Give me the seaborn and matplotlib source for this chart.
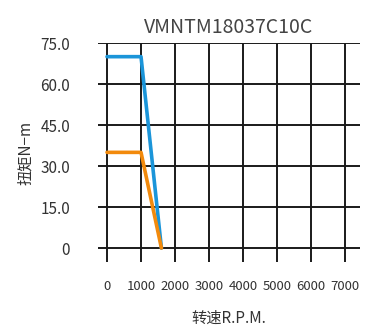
import matplotlib
matplotlib.use("Agg")
import matplotlib.pyplot as plt
import seaborn as sns
import pandas as pd

speed = [0, 1000, 1600]
peak_torque = [70, 70, 0]
rated_torque = [35, 35, 0]
x_ticks = [0, 1000, 2000, 3000, 4000, 5000, 6000, 7000]
y_ticks = [0, 15, 30, 45, 60, 75]
y_labels = ['0', '15.0', '30.0', '45.0', '60.0', '75.0']

sns.set_style('white')
plt.rcParams['font.family'] = ['Noto Sans CJK SC', 'DejaVu Sans']

df = pd.DataFrame({
    'speed': speed * 2,
    'torque': peak_torque + rated_torque,
    'curve': ['peak'] * 3 + ['rated'] * 3,
})

fig = plt.figure(figsize=(3.65, 3.27), dpi=100)
ax = fig.add_axes([0.2685, 0.1988, 0.7178, 0.6697])

sns.lineplot(data=df, x='speed', y='torque', hue='curve', sort=False,
             palette={'peak': '#1b95d9', 'rated': '#f28a0c'},
             linewidth=2.6, legend=False, ax=ax, zorder=3)

ax.set_xlim(-265, 7440)
ax.set_ylim(-5.1, 75)
ax.set_xticks(x_ticks)
ax.set_yticks(y_ticks)
ax.set_yticklabels(y_labels)
ax.grid(True, color='#1a1a1a', linewidth=1.4)
for s in ax.spines.values():
    s.set_visible(False)
ax.tick_params(axis='x', length=0, pad=13, labelsize=9.5, labelcolor='#333333')
ax.tick_params(axis='y', length=0, pad=20, labelsize=11, labelcolor='#333333')

ax.set_title('VMNTM18037C10C', fontsize=14, color='#444444', pad=7)
ax.set_xlabel('转速R.P.M.', fontsize=11, color='#333333', labelpad=12)
ax.set_ylabel('扭矩N−m', fontsize=11, color='#333333', labelpad=5)

fig.savefig('out.png', dpi=100)
